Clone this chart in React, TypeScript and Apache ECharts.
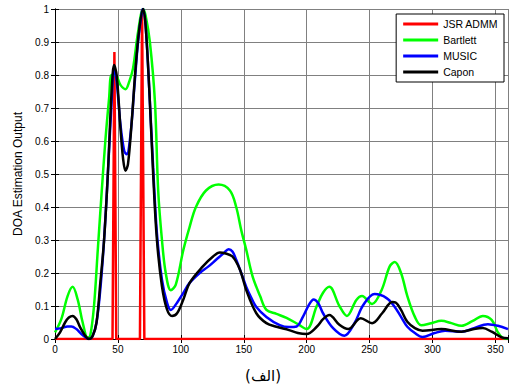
import React, { useEffect, useRef } from 'react';
import * as echarts from 'echarts';

const xAxisTicks = [0, 50, 100, 150, 200, 250, 300, 350];
const yAxisTicks = [0, 0.1, 0.2, 0.3, 0.4, 0.5, 0.6, 0.7, 0.8, 0.9, 1];
const seriesNames = ['JSR ADMM', 'Bartlett', 'MUSIC', 'Capon'];

const jsrDeg = [0, 45.7, 47.2, 48.7, 67.5, 69.2, 71, 360];
const jsrVal = [0, 0, 0.87, 0, 0, 1, 0, 0];

const bartlettDeg = [0, 5, 10, 14, 18, 22, 26, 28, 31, 34, 37, 40, 43, 45, 48, 52, 56, 59, 62, 66, 70, 72, 75.4, 79.4, 82, 85, 88, 92, 96, 102, 107, 112, 120, 130, 139, 144, 148, 152, 157, 163, 168, 176, 184, 193, 200, 208, 213, 218, 226, 232, 239.5, 244, 252, 259.5, 266, 270, 275, 280, 286, 291, 299, 307, 315, 323, 332, 340, 347, 352, 356, 360];
const bartlettVal = [0.02, 0.06, 0.13, 0.158, 0.12, 0.05, 0.003, 0.01, 0.1, 0.27, 0.44, 0.6, 0.73, 0.8, 0.8, 0.77, 0.757, 0.78, 0.82, 0.93, 1.0, 0.98, 0.9, 0.72, 0.45, 0.3, 0.2, 0.148, 0.165, 0.27, 0.34, 0.4, 0.45, 0.468, 0.45, 0.4, 0.33, 0.27, 0.19, 0.13, 0.088, 0.076, 0.064, 0.045, 0.03, 0.1, 0.14, 0.158, 0.1, 0.07, 0.118, 0.13, 0.106, 0.148, 0.22, 0.233, 0.2, 0.13, 0.067, 0.042, 0.048, 0.055, 0.048, 0.04, 0.055, 0.07, 0.058, 0.02, 0.003, 0];

const musicDeg = [0, 5, 10, 13, 17, 21, 25, 27, 30, 33, 36, 39, 42, 45, 47, 49, 52, 55, 57, 60, 63, 66, 69, 70, 72, 75, 78, 81, 85, 89, 92, 97, 102, 107, 115, 122, 128, 134, 138, 141, 144, 148, 152, 156, 160, 168, 178.6, 186, 192, 197, 202, 205.5, 209, 213, 221, 230, 238, 245, 254, 263.5, 270, 275, 280, 286, 292, 301.6, 310, 323, 333, 344, 352, 360];
const musicVal = [0.03, 0.033, 0.038, 0.038, 0.03, 0.015, 0.003, 0.0, 0.01, 0.05, 0.15, 0.3, 0.5, 0.72, 0.82, 0.78, 0.65, 0.57, 0.56, 0.62, 0.76, 0.9, 0.99, 1.0, 0.95, 0.75, 0.52, 0.32, 0.18, 0.11, 0.088, 0.11, 0.14, 0.17, 0.2, 0.22, 0.24, 0.26, 0.272, 0.265, 0.24, 0.2, 0.158, 0.125, 0.097, 0.067, 0.042, 0.036, 0.038, 0.067, 0.105, 0.12, 0.11, 0.078, 0.033, 0.01, 0.048, 0.103, 0.136, 0.124, 0.097, 0.067, 0.037, 0.018, 0.006, 0.018, 0.025, 0.022, 0.033, 0.045, 0.04, 0.03];

const caponDeg = [0, 4, 8, 11, 14, 17, 20, 24, 27, 30, 33, 36, 39, 42, 45, 47, 49, 52, 54, 56, 58, 61, 64, 67, 70, 72, 75, 78, 81, 85, 89, 93, 97, 102, 107, 117.5, 125.6, 131, 135, 141, 147, 152, 160, 168, 176, 186, 193, 200, 208, 213, 218, 226, 233, 243, 252, 260, 268, 271, 275, 280, 286, 292, 307, 323, 333, 340, 347, 355, 360];
const caponVal = [0.0, 0.02, 0.05, 0.065, 0.07, 0.06, 0.035, 0.01, 0.0, 0.01, 0.05, 0.17, 0.3, 0.5, 0.75, 0.83, 0.8, 0.64, 0.55, 0.51, 0.53, 0.66, 0.82, 0.94, 1.0, 0.95, 0.75, 0.5, 0.3, 0.16, 0.09, 0.07, 0.078, 0.12, 0.17, 0.22, 0.25, 0.262, 0.26, 0.25, 0.21, 0.148, 0.078, 0.048, 0.037, 0.027, 0.018, 0.015, 0.037, 0.06, 0.073, 0.043, 0.03, 0.063, 0.048, 0.078, 0.112, 0.11, 0.088, 0.052, 0.033, 0.025, 0.03, 0.022, 0.03, 0.033, 0.022, 0.005, 0.002];

const zip = (xs: number[], ys: number[]) => xs.map((x, i) => [x, ys[i]]);

export default function App() {
  const ref = useRef<HTMLDivElement>(null);
  useEffect(() => {
    const chart = echarts.init(ref.current!, null, { renderer: 'svg' });
    const font = 'Liberation Sans, Arial, sans-serif';
    const commonX = {
      type: 'value' as const,
      min: 0,
      max: 360,
      interval: 50,
    };
    const commonY = {
      type: 'value' as const,
      min: 0,
      max: 1,
      interval: 0.1,
    };
    const lineSeries = (name: string, color: string, data: number[][], smooth: boolean | number) => ({
      name,
      type: 'line',
      data,
      smooth,
      showSymbol: false,
      symbol: 'none',
      lineStyle: { color, width: 2.5 },
      itemStyle: { color },
      emphasis: { disabled: true },
    });
    chart.setOption({
      animation: false,
      backgroundColor: '#fff',
      grid: { left: 55, right: 4, top: 9, bottom: 50 },
      xAxis: [
        {
          ...commonX,
          position: 'bottom',
          axisLine: { show: true, lineStyle: { color: '#000', width: 1 } },
          axisTick: { show: true, inside: true, length: 4, lineStyle: { color: '#000' } },
          axisLabel: {
            color: '#000', fontSize: 10, fontFamily: font, margin: 5,
            formatter: (v: number) => (xAxisTicks.includes(v) ? String(v) : ''),
          },
          splitLine: { show: true, lineStyle: { color: '#808080', width: 1 } },
        },
        {
          ...commonX,
          position: 'top',
          axisLine: { show: true, lineStyle: { color: '#000', width: 1 } },
          axisTick: { show: true, inside: true, length: 4, lineStyle: { color: '#000' } },
          axisLabel: { show: false },
          splitLine: { show: false },
        },
      ],
      yAxis: [
        {
          ...commonY,
          position: 'left',
          name: 'DOA Estimation Output',
          nameLocation: 'middle',
          nameGap: 28,
          nameTextStyle: { color: '#000', fontSize: 12, fontFamily: font },
          axisLine: { show: true, lineStyle: { color: '#000', width: 1 } },
          axisTick: { show: true, inside: true, length: 4, lineStyle: { color: '#000' } },
          axisLabel: {
            color: '#000', fontSize: 10, fontFamily: font, margin: 6,
            formatter: (v: number) => {
              const t = yAxisTicks.find((y) => Math.abs(y - v) < 1e-6);
              return t === undefined ? '' : String(Math.round(t * 10) / 10);
            },
          },
          splitLine: { show: true, lineStyle: { color: '#808080', width: 1 } },
        },
        {
          ...commonY,
          position: 'right',
          axisLine: { show: true, lineStyle: { color: '#000', width: 1 } },
          axisTick: { show: true, inside: true, length: 4, lineStyle: { color: '#000' } },
          axisLabel: { show: false },
          splitLine: { show: false },
        },
      ],
      legend: {
        data: seriesNames,
        orient: 'vertical',
        right: 8,
        top: 14,
        icon: 'rect',
        itemWidth: 35,
        itemHeight: 3,
        itemGap: 2,
        padding: [3, 6, 3, 7],
        backgroundColor: '#fff',
        borderColor: '#000',
        borderWidth: 1,
        borderRadius: 0,
        textStyle: { color: '#000', fontSize: 10.5, fontFamily: font, lineHeight: 14 },
      },
      graphic: [
        {
          type: 'text',
          x: 263,
          y: 376,
          style: {
            text: '(الف)',
            fontSize: 15,
            fontFamily: 'DejaVu Sans, sans-serif',
            fill: '#000',
            textAlign: 'center',
            textVerticalAlign: 'middle',
          },
        },
      ],
      series: [
        lineSeries(seriesNames[0], '#ff0000', zip(jsrDeg, jsrVal), false),
        lineSeries(seriesNames[1], '#00ff00', zip(bartlettDeg, bartlettVal), 0.35),
        lineSeries(seriesNames[2], '#0000ff', zip(musicDeg, musicVal), 0.35),
        lineSeries(seriesNames[3], '#000000', zip(caponDeg, caponVal), 0.35),
      ],
    });
    return () => chart.dispose();
  }, []);
  return <div ref={ref} style={{ position: 'fixed', left: 0, top: 0, width: 512, height: 389 }} />;
}
